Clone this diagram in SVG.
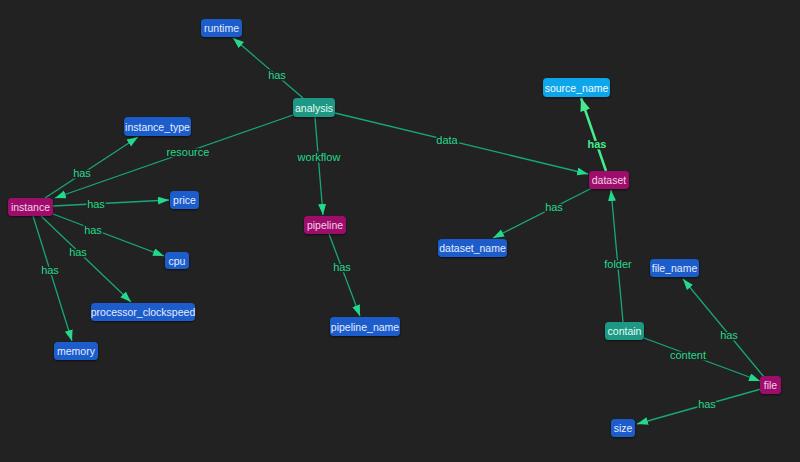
<svg xmlns="http://www.w3.org/2000/svg" width="800" height="462" viewBox="0 0 800 462">
<defs>
<marker id="arr" markerUnits="userSpaceOnUse" markerWidth="12" markerHeight="9" refX="11" refY="4" orient="auto"><path d="M0,0 L11,4 L0,8 z" fill="#22d98c"/></marker>
<marker id="arrB" markerUnits="userSpaceOnUse" markerWidth="14" markerHeight="10" refX="13" refY="5" orient="auto"><path d="M0,0 L13,5 L0,10 z" fill="#45ec8e"/></marker>
<filter id="sh" x="-20%" y="-30%" width="140%" height="160%"><feDropShadow dx="0" dy="1" stdDeviation="1" flood-color="#000" flood-opacity="0.6"/></filter>
</defs>
<style>
.e{stroke:#18a877;stroke-width:1.3;fill:none;marker-end:url(#arr)}
.eb{stroke:#45ec8e;stroke-width:2.5;fill:none;marker-end:url(#arrB)}
.el{font-family:"Liberation Sans",Arial,sans-serif;font-size:11px;fill:#22d98c;text-anchor:middle;dominant-baseline:central;stroke:#222222;stroke-width:3px;paint-order:stroke}
.elb{fill:#45ec8e;font-weight:bold}
.n rect{rx:4;ry:4;filter:url(#sh)}
.n text{font-family:"Liberation Sans",Arial,sans-serif;font-size:10.5px;text-anchor:middle;dominant-baseline:central}
.blue rect{fill:#1c5ccb}
.blue text{fill:#e4ecff}
.mag rect{fill:#9e116c}
.mag text{fill:#f3d0e6}
.teal rect{fill:#1c9884}
.teal text{fill:#e6fbf6}
.sky rect{fill:#0aa6ea}
.sky text{fill:#f2fbff}
</style>
<rect width="800" height="462" fill="#222222"/>
<g id="connectors">
<line class="e" x1="303" y1="98" x2="233" y2="38"/>
<line class="e" x1="293" y1="115" x2="55" y2="198"/>
<line class="e" x1="315" y1="117" x2="323" y2="215"/>
<line class="e" x1="335" y1="113" x2="588" y2="174"/>
<line class="e" x1="45" y1="198" x2="138" y2="137"/>
<line class="e" x1="53" y1="206" x2="169" y2="200"/>
<line class="e" x1="53" y1="214" x2="164" y2="256"/>
<line class="e" x1="41" y1="216" x2="131" y2="302"/>
<line class="e" x1="33" y1="216" x2="72" y2="341"/>
<line class="e" x1="329" y1="234" x2="360" y2="316"/>
<line class="eb" x1="606" y1="171" x2="581" y2="98"/>
<line class="e" x1="592" y1="188" x2="493" y2="238"/>
<line class="e" x1="623" y1="322" x2="611" y2="190"/>
<line class="e" x1="644" y1="338" x2="760" y2="381"/>
<line class="e" x1="764" y1="377" x2="683" y2="279"/>
<line class="e" x1="761" y1="389" x2="637" y2="424"/>
<text class="el" x="277" y="75">has</text>
<text class="el" x="188" y="152">resource</text>
<text class="el" x="319" y="157">workflow</text>
<text class="el" x="447" y="140">data</text>
<text class="el" x="82" y="173">has</text>
<text class="el" x="96" y="204">has</text>
<text class="el" x="93" y="230">has</text>
<text class="el" x="78" y="252">has</text>
<text class="el" x="50" y="270">has</text>
<text class="el" x="342" y="267">has</text>
<text class="el elb" x="597" y="144">has</text>
<text class="el" x="554" y="207">has</text>
<text class="el" x="618" y="264">folder</text>
<text class="el" x="688" y="355">content</text>
<text class="el" x="729" y="335">has</text>
<text class="el" x="707" y="404">has</text>
</g>
<g id="runtime" class="n blue"><rect x="201" y="19" width="41" height="18"/><text x="221.5" y="28">runtime</text></g>
<g id="analysis" class="n teal"><rect x="293" y="98" width="42" height="19"/><text x="314" y="107.5">analysis</text></g>
<g id="instance_type" class="n blue"><rect x="124" y="117" width="67" height="19"/><text x="157.5" y="126.5">instance_type</text></g>
<g id="instance" class="n mag"><rect x="8" y="198" width="45" height="18"/><text x="30.5" y="207">instance</text></g>
<g id="price" class="n blue"><rect x="170" y="191" width="29" height="18"/><text x="184.5" y="200">price</text></g>
<g id="cpu" class="n blue"><rect x="165" y="252" width="24" height="17"/><text x="177" y="260.5">cpu</text></g>
<g id="processor_clockspeed" class="n blue"><rect x="91" y="303" width="104" height="18"/><text x="143" y="312">processor_clockspeed</text></g>
<g id="memory" class="n blue"><rect x="54" y="342" width="44" height="18"/><text x="76" y="351">memory</text></g>
<g id="pipeline" class="n mag"><rect x="304" y="216" width="42" height="18"/><text x="325" y="225">pipeline</text></g>
<g id="pipeline_name" class="n blue"><rect x="330" y="317" width="70" height="19"/><text x="365" y="326.5">pipeline_name</text></g>
<g id="source_name" class="n sky"><rect x="543" y="78" width="67" height="19"/><text x="576.5" y="87.5">source_name</text></g>
<g id="dataset" class="n mag"><rect x="589" y="171" width="40" height="18"/><text x="609" y="180">dataset</text></g>
<g id="dataset_name" class="n blue"><rect x="438" y="239" width="69" height="18"/><text x="472.5" y="248">dataset_name</text></g>
<g id="file_name" class="n blue"><rect x="650" y="259" width="49" height="18"/><text x="674.5" y="268">file_name</text></g>
<g id="contain" class="n teal"><rect x="605" y="322" width="39" height="18"/><text x="624.5" y="331">contain</text></g>
<g id="file" class="n mag"><rect x="760" y="376" width="21" height="18"/><text x="770.5" y="385">file</text></g>
<g id="size" class="n blue"><rect x="611" y="419" width="24" height="18"/><text x="623" y="428">size</text></g>
</svg>
